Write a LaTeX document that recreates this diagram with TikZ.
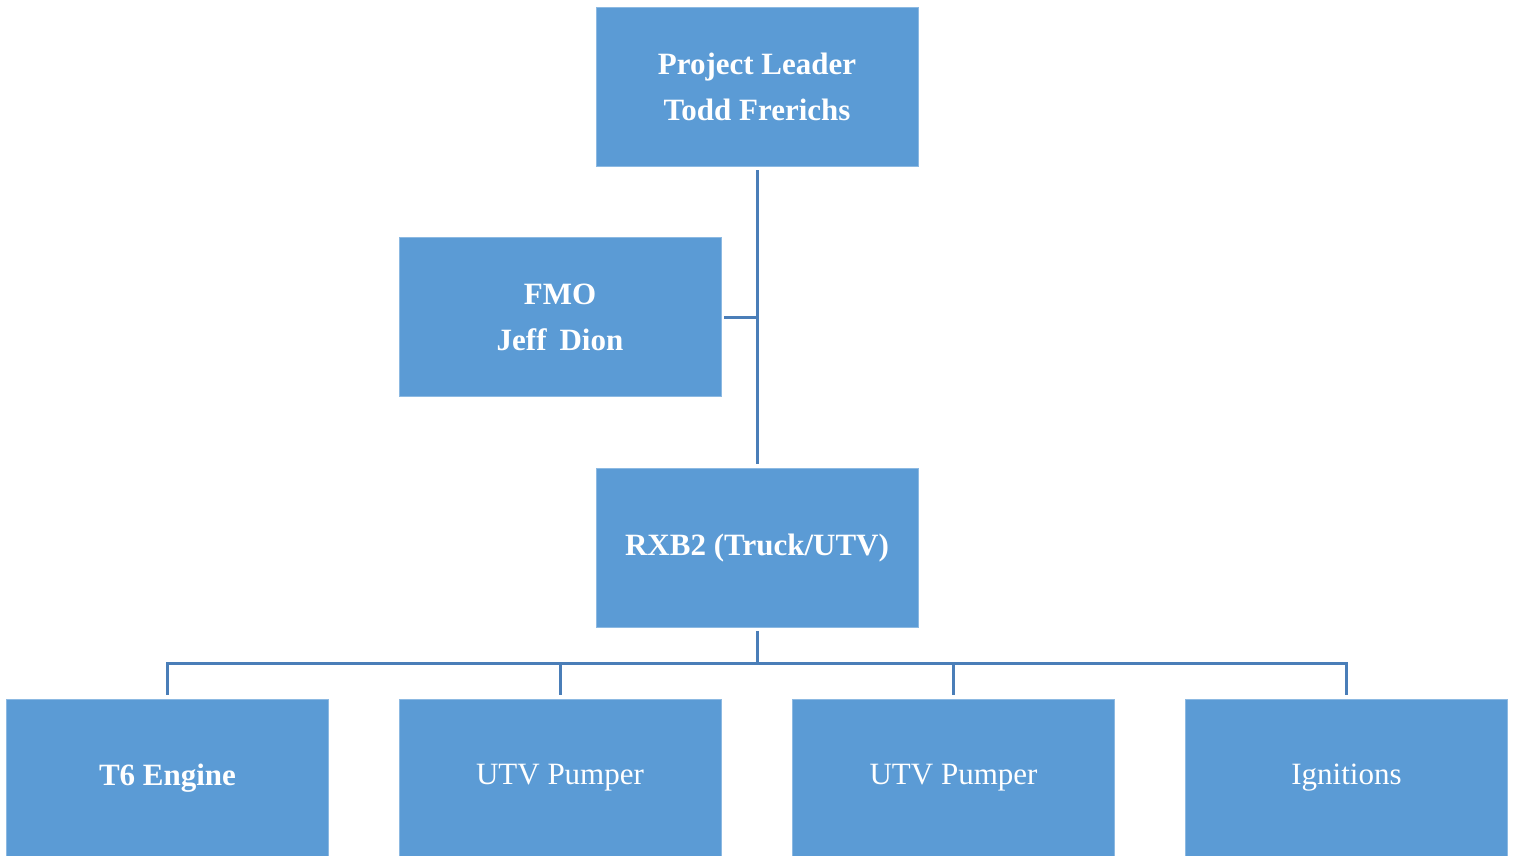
\documentclass[tikz,border=0pt]{standalone}
\usepackage{fontspec}
\setmainfont{Liberation Serif}
\definecolor{boxblue}{HTML}{5B9BD5}
\definecolor{lineblue}{HTML}{4A7EB8}
\begin{document}
\begin{tikzpicture}[x=1pt,y=-1pt,
  orgbox/.style={fill=boxblue, draw=boxblue!70!white, line width=0.8pt, minimum width=322pt, minimum height=159pt, inner sep=0pt, text=white, align=center, font=\fontsize{31}{46}\selectfont},
  conn/.style={draw=lineblue, line width=3pt}]
\useasboundingbox (0,0) rectangle (1513,856);
\node[orgbox] (lead) at (757,86.5) {\textbf{Project Leader}\\\textbf{Todd Frerichs}};
\node[orgbox] (fmo) at (560,317) {\textbf{FMO}\\\textbf{Jeff\, Dion}};
\node[orgbox] (rxb) at (757,548) {\textbf{RXB2 (Truck/UTV)}};
\node[orgbox, minimum height=158pt] (t6) at (167.5,778) {\textbf{T6 Engine}};
\node[orgbox, minimum height=158pt] (utv1) at (560,778) {UTV Pumper};
\node[orgbox, minimum height=158pt] (utv2) at (953.5,778) {UTV Pumper};
\node[orgbox, minimum height=158pt] (ign) at (1346.5,778) {Ignitions};
\coordinate (j1) at (757,317);
\coordinate (bus) at (757,663);
\draw[conn] ([yshift=-4pt]lead.south) -- ([yshift=4pt]rxb.north);
\draw[conn] ([xshift=3pt]fmo.east) -- (j1);
\draw[conn] ([yshift=-3pt]rxb.south) -- (bus);
\draw[conn] ([yshift=4pt]t6.north) |- (bus) -| ([yshift=4pt]ign.north);
\draw[conn] ([yshift=4pt]utv1.north) -- (utv1.north |- bus);
\draw[conn] ([yshift=4pt]utv2.north) -- (utv2.north |- bus);
\end{tikzpicture}
\end{document}
